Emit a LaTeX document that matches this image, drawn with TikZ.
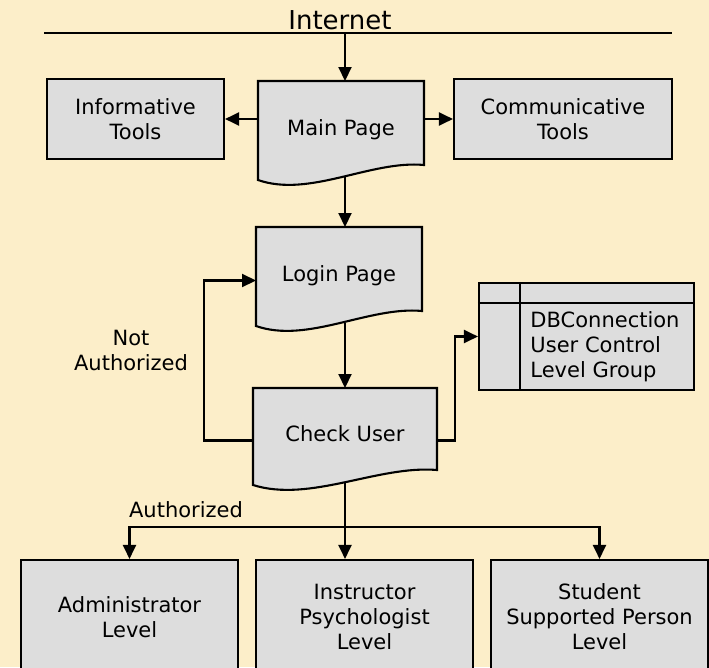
\documentclass[tikz,border=0pt]{standalone}
\usepackage{fontspec}
\setmainfont{DejaVu Sans}
\usepackage{xcolor}
\usepackage{tikz}
\usetikzlibrary{positioning, arrows.meta, calc, backgrounds}

\definecolor{parchment}{RGB}{252,238,201}
\definecolor{boxgray}{RGB}{221,221,221}

\newcommand{\boxfont}{\fontsize{21}{25}\selectfont}
\newcommand{\netfont}{\fontsize{26}{30}\selectfont}

% outline of a page node: straight top and sides, wavy lower edge
\newcommand{\pageoutline}[1]{%
  \filldraw[boxline] (#1.north west) -- (#1.north east) -- ([yshift=15pt]#1.south east)
    .. controls ($(#1.south west)!0.68!(#1.south east)+(0,20pt)$) and ($(#1.south west)!0.31!(#1.south east)+(0,-18pt)$) .. (#1.south west) -- cycle;
}

\begin{document}
\begin{tikzpicture}[
    x=1pt, y=-1pt,
    boxline/.style={draw=black, line width=2.1pt, fill=boxgray},
    line/.style={draw=black, line width=2.1pt},
    arr/.style={line, -{Triangle[length=14pt,width=13pt]}},
    toolbox/.style={rectangle, boxline, minimum width=218pt, minimum height=80pt, align=center, font=\boxfont},
    pagenode/.style={rectangle, minimum width=166pt, minimum height=99pt, inner sep=0pt, outer sep=0pt, text depth=5pt, align=center, font=\boxfont},
    levelbox/.style={rectangle, boxline, minimum width=217pt, minimum height=114pt, align=center, font=\boxfont},
    tablebox/.style={rectangle, boxline, minimum width=215pt, minimum height=107pt},
    lbl/.style={align=center, font=\boxfont}
]
\useasboundingbox (0,0) rectangle (709,667);
\clip (0,0) rectangle (709,667);

% Internet line
\node[font=\netfont, anchor=base] (net) at (340,29) {Internet};
\coordinate (netL) at (44,33);
\coordinate (netR) at (672,33);
\coordinate (spine) at (345,33);
\draw[line] (netL) -- (netR);

% Pages
\node[pagenode] (main) at (341,130.5) {Main Page};
\node[pagenode] (login) at (339,276.5) {Login Page};
\node[pagenode, minimum width=184pt, minimum height=97pt] (chk) at (345,436.5) {Check User};

% Tools
\node[toolbox, minimum width=177pt] (inf) at (135.5,119) {Informative\\Tools};
\node[toolbox] (com) at (563,119) {Communicative\\Tools};

% Table
\node[tablebox] (db) at (586.5,336.5) {};
\draw[line] ([yshift=-21pt]db.north west) -- ([yshift=-21pt]db.north east);
\draw[line] ([xshift=42pt]db.north west) -- ([xshift=42pt]db.south west);
\node[anchor=west, align=left, font=\boxfont] (dbtext) at ([xshift=49pt,yshift=-10.5pt]db.west) {DBConnection\\User Control\\Level Group};

% Levels
\node[levelbox] (adm) at (129.5,617) {Administrator\\Level};
\node[levelbox] (inst) at (364.5,617) {Instructor\\Psychologist\\Level};
\node[levelbox] (stu) at (599.5,617) {Student\\Supported Person\\Level};

% Labels
\node[lbl] (notauth) at (131,350) {Not\\Authorized};
\node[lbl] (auth) at (186,510) {Authorized};

% Edges
\draw[arr] (spine) -- (spine |- main.north);
\draw[arr] (main.west |- inf.east) -- (inf.east);
\draw[arr] (main.east |- com.west) -- (com.west);
\draw[arr] ([yshift=3pt]spine |- main.south) -- (spine |- login.north);
\draw[arr] ([yshift=3pt]spine |- login.south) -- (spine |- chk.north);
\draw[arr] ([yshift=-4pt]chk.west) -- ++(-49,0) |- ([yshift=-4pt]login.west);
\draw[arr] ([yshift=-4pt]chk.east) -- ++(18,0) |- (db.west);

% Authorized branches
\coordinate (split) at ([yshift=-42pt]chk.south);
\draw[arr] ([yshift=2pt]chk.south) -- (chk.south |- inst.north);
\draw[arr] (split) -| (adm.north);
\draw[arr] (split) -| (stu.north);

\begin{pgfonlayer}{background}
  \fill[parchment] (0,0) rectangle (709,667);
  \pageoutline{main}
  \pageoutline{login}
  \pageoutline{chk}
\end{pgfonlayer}

\end{tikzpicture}
\end{document}
